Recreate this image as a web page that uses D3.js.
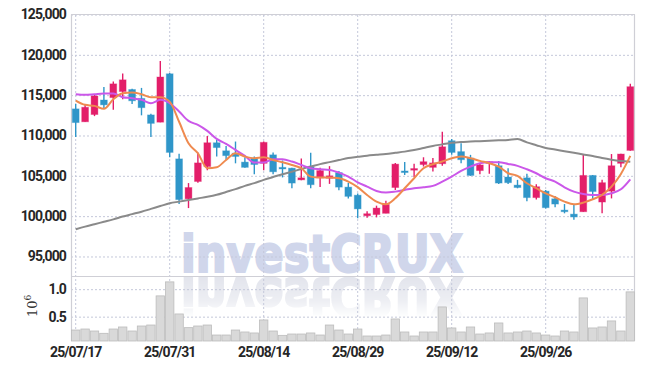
<!DOCTYPE html>
<html>
<head>
<meta charset="utf-8">
<script src="https://cdn.jsdelivr.net/npm/d3@7/dist/d3.min.js"></script>
<style>
  body {margin: 0; background: #fff;}
</style>
</head>
<body>
<div id="chart"></div>
<script>
// trading days shown on the chart
const dates = [
  '25/07/17', '25/07/18', '25/07/21', '25/07/22', '25/07/23', '25/07/24', '25/07/25', '25/07/28', '25/07/29', '25/07/30',
  '25/07/31', '25/08/01', '25/08/04', '25/08/05', '25/08/06', '25/08/07', '25/08/08', '25/08/11', '25/08/12', '25/08/13',
  '25/08/14', '25/08/18', '25/08/19', '25/08/20', '25/08/21', '25/08/22', '25/08/25', '25/08/26', '25/08/27', '25/08/28',
  '25/08/29', '25/09/01', '25/09/02', '25/09/03', '25/09/04', '25/09/05', '25/09/08', '25/09/09', '25/09/10', '25/09/11',
  '25/09/12', '25/09/15', '25/09/16', '25/09/17', '25/09/18', '25/09/19', '25/09/22', '25/09/23', '25/09/24', '25/09/25',
  '25/09/26', '25/09/29', '25/09/30', '25/10/01', '25/10/02', '25/10/10', '25/10/13', '25/10/14', '25/10/15', '25/10/16'
];

const open = [
  113300, 111700, 112600, 114400, 114700, 115450, 115700, 114600, 112550, 111650,
  117650, 107100, 102150, 104300, 106150, 109100, 108100, 107800, 106700, 107200,
  106550, 107600, 106050, 105950, 104500, 106100, 104750, 104700, 105400, 103600,
  102600, 100050, 100200, 100350, 103550, 105600, 105700, 106400, 106050, 106500,
  109350, 108000, 107200, 105650, 106550, 106250, 104850, 103850, 104750, 102300,
  103100, 102150, 100750, 100250, 100550, 105050, 101750, 103100, 106550, 108150
];
const high = [
  113900, 113900, 115100, 116000, 116700, 117700, 115800, 115900, 112700, 119250,
  117750, 107750, 104100, 107900, 109950, 109450, 108700, 109250, 107300, 107400,
  109250, 107900, 106900, 106000, 107150, 107850, 106000, 106200, 105600, 104100,
  102800, 100600, 101300, 101900, 106600, 106700, 106500, 107300, 107200, 110450,
  109550, 109050, 107600, 106550, 106800, 106850, 105950, 104500, 105250, 103950,
  103250, 102500, 101500, 101400, 107700, 105100, 104500, 107700, 107750, 116400
];
const low = [
  109800, 111700, 112400, 113400, 113200, 114500, 113900, 112500, 109800, 111650,
  107300, 101500, 101000, 104150, 105700, 107400, 107000, 106550, 106000, 105200,
  105700, 105200, 104800, 103450, 104450, 103450, 103600, 104000, 103200, 102200,
  99750, 99800, 99850, 100350, 103250, 105100, 104850, 106150, 105550, 106250,
  107600, 106550, 105000, 105200, 105250, 104000, 104000, 103450, 101850, 102050,
  100950, 101100, 100350, 99550, 100550, 102000, 100350, 102200, 106050, 108100
];
const close = [
  111600, 113500, 114900, 113800, 116400, 116900, 114300, 113450, 111500, 117250,
  107900, 102050, 103550, 106600, 109100, 108500, 107500, 107400, 106050, 106400,
  109150, 105500, 105850, 104100, 104750, 103900, 105650, 105000, 103600, 102450,
  100900, 100300, 101000, 101450, 106450, 105400, 105900, 106750, 106600, 108600,
  107900, 107000, 105050, 106350, 106750, 104100, 104150, 103550, 102300, 103650,
  101050, 101500, 100550, 99900, 105050, 103050, 104150, 106250, 107700, 116050
];

// volume, in millions of shares
const volume = [
  0.257, 0.275, 0.239, 0.197, 0.275, 0.312, 0.239, 0.330, 0.348, 0.878,
  1.133, 0.549, 0.300, 0.330, 0.348, 0.166, 0.166, 0.257, 0.221, 0.203,
  0.440, 0.239, 0.160, 0.184, 0.184, 0.203, 0.166, 0.348, 0.257, 0.184,
  0.275, 0.148, 0.148, 0.166, 0.458, 0.221, 0.148, 0.221, 0.221, 0.677,
  0.294, 0.221, 0.312, 0.184, 0.203, 0.385, 0.203, 0.221, 0.239, 0.203,
  0.166, 0.148, 0.239, 0.221, 0.841, 0.294, 0.312, 0.422, 0.239, 0.951
];

// moving averages
const ma5 = [
  114330, 113800, 113670, 113300, 114500, 115240, 115330, 115120, 114750, 114750,
  114200, 111700, 109040, 107800, 105940, 106060, 106970, 107800, 107390, 107180,
  107300, 106970, 106680, 106350, 105940, 104900, 104780, 104780, 104700, 104285,
  103600, 102630, 101800, 101470, 102220, 103460, 104700, 105940, 106430, 106770,
  107180, 107385, 107180, 106850, 106560, 106145, 105320, 104990, 104080, 103460,
  102835, 102340, 101800, 101470, 101680, 102090, 102630, 103660, 105235, 107470
];
const ma20 = [
  115120, 115040, 115120, 115200, 115200, 114750, 114620, 114420, 114000, 114420,
  114000, 112970, 111810, 111310, 110570, 109580, 108960, 108210, 107470, 106640,
  106640, 107055, 107055, 106770, 106350, 105940, 105810, 105730, 105400, 104905,
  104200, 103660, 103125, 102920, 103040, 103250, 103460, 103580, 103750, 104285,
  104900, 105610, 106145, 106560, 106680, 106680, 106475, 106230, 105810, 105320,
  104700, 104285, 103580, 103040, 102750, 102630, 102630, 102835, 103330, 104570
];
const ma60 = [
  98375, 98700, 99000, 99300, 99600, 99950, 100250, 100550, 100900, 101250,
  101600, 101800, 102000, 102200, 102400, 102650, 103000, 103350, 103750, 104100,
  104500, 104850, 105200, 105500, 105850, 106150, 106450, 106700, 106950, 107200,
  107350, 107500, 107600, 107700, 107850, 108000, 108200, 108450, 108700, 108900,
  109100, 109200, 109250, 109300, 109350, 109400, 109450, 109550, 109150, 108800,
  108450, 108250, 108050, 107850, 107650, 107450, 107200, 107000, 106850, 106750
];

const priceTicks = [95000, 100000, 105000, 110000, 115000, 120000, 125000];
const volumeTicks = [0.5, 1.0];
const dateTicks = ['25/07/17', '25/07/31', '25/08/14', '25/08/29', '25/09/12', '25/09/26'];

// layout
const s = {
  width: 645, height: 370,
  left: 71, right: 635,
  top: 14.5, split: 276, bottom: 341,
  up: '#e31e69', down: '#2f96c9',
  grid: '#c4c8da', frame: '#cfcfd6',
  font: 'Roboto, sans-serif'
};

const svg = d3.select('#chart').append('svg')
  .attr('width', s.width)
  .attr('height', s.height)
  .style('font-family', s.font);

// scales
const x = d3.scaleBand().domain(dates).range([s.left, s.right]);
const cx = d => x(d) + x.bandwidth() / 2;
const y = d3.scaleLinear().domain([92580, 125000]).range([s.split, s.top]);
const yv = d3.scaleLinear().domain([0.057, 1.24]).range([s.bottom, s.split]);

// watermark with reflection
const defs = svg.append('defs');
const grad = defs.append('linearGradient').attr('id', 'fade')
  .attr('gradientUnits', 'userSpaceOnUse')
  .attr('x1', 0).attr('x2', 0).attr('y1', 276).attr('y2', 318);
grad.append('stop').attr('offset', 0).attr('stop-color', '#fff').attr('stop-opacity', 1);
grad.append('stop').attr('offset', 0.6).attr('stop-color', '#fff').attr('stop-opacity', 0.6);
grad.append('stop').attr('offset', 1).attr('stop-color', '#fff').attr('stop-opacity', 0);
defs.append('mask').attr('id', 'fadeMask')
  .append('rect').attr('x', 0).attr('y', 276).attr('width', s.width).attr('height', 44)
  .attr('fill', 'url(#fade)');

const mark = svg.append('g').attr('class', 'watermark')
  .style('font-family', '"DejaVu Sans", sans-serif')
  .style('font-weight', 'bold')
  .style('font-size', '52px');
mark.append('text')
  .attr('x', 181).attr('y', 271.7)
  .attr('textLength', 282).attr('lengthAdjust', 'spacingAndGlyphs')
  .attr('fill', '#d0d6eb')
  .attr('stroke', '#d0d6eb')
  .attr('stroke-width', 2.2)
  .text('investCRUX');
mark.append('g').attr('mask', 'url(#fadeMask)')
  .append('text')
  .attr('transform', 'translate(0,550) scale(1,-1)')
  .attr('x', 181).attr('y', 271.7)
  .attr('textLength', 282).attr('lengthAdjust', 'spacingAndGlyphs')
  .attr('fill', '#e2e4ec')
  .attr('stroke', '#e2e4ec')
  .attr('stroke-width', 2.2)
  .text('investCRUX');

// grid + axes
const styleGrid = g => {
  g.select('.domain').remove();
  g.selectAll('.tick line')
    .attr('stroke', s.grid)
    .attr('stroke-dasharray', '2,2');
  g.selectAll('.tick text')
    .attr('fill', '#262626')
    .style('font-size', '14px')
    .style('font-weight', 700)
    .style('letter-spacing', '-0.9px')
    .style('font-family', s.font);
};

svg.append('g').attr('class', 'xaxis')
  .attr('transform', `translate(0,${s.bottom})`)
  .call(d3.axisBottom(x).tickValues(dateTicks).tickSize(-(s.bottom - s.top)).tickPadding(6))
  .call(styleGrid);

svg.append('g').attr('class', 'yaxis')
  .attr('transform', `translate(${s.left},0)`)
  .call(d3.axisLeft(y).tickValues(priceTicks).tickFormat(d3.format(','))
    .tickSize(-(s.right - s.left)).tickPadding(5))
  .call(styleGrid);

svg.append('g').attr('class', 'vaxis')
  .attr('transform', `translate(${s.left},0)`)
  .call(d3.axisLeft(yv).tickValues(volumeTicks).tickFormat(d3.format('.1f'))
    .tickSize(-(s.right - s.left)).tickPadding(5))
  .call(styleGrid);

// frame
const frame = svg.append('g').attr('class', 'frame')
  .attr('stroke', s.frame).attr('stroke-width', 1.2).attr('fill', 'none');
frame.append('line').attr('x1', s.left + 0.5).attr('x2', s.left + 0.5).attr('y1', s.top).attr('y2', s.bottom);
frame.append('line').attr('x1', s.right - 0.5).attr('x2', s.right - 0.5).attr('y1', s.top).attr('y2', s.bottom);
frame.append('line').attr('x1', s.left).attr('x2', s.right).attr('y1', s.top).attr('y2', s.top);
frame.append('line').attr('x1', s.left).attr('x2', s.right).attr('y1', s.split + 0.5).attr('y2', s.split + 0.5);

// volume unit label
svg.append('text')
  .attr('transform', 'translate(37,317) rotate(-90)')
  .style('font-family', '"DejaVu Serif", serif')
  .style('font-size', '13px')
  .attr('fill', '#333')
  .call(t => {
    t.append('tspan').text('10');
    t.append('tspan').attr('dy', -6).style('font-size', '9px').text('6');
  });

// volume bars
svg.append('g').attr('class', 'volume')
  .selectAll('rect')
  .data(dates)
  .join('rect')
  .attr('x', d => x(d) + 0.5)
  .attr('width', x.bandwidth() - 1)
  .attr('y', (d, i) => yv(volume[i]))
  .attr('height', (d, i) => s.bottom - yv(volume[i]))
  .attr('fill', '#d9d9d9')
  .attr('stroke', '#bcbcbc')
  .attr('stroke-width', 0.8);

// candles
const colour = i => close[i] >= open[i] ? s.up : s.down;
const candle = svg.append('g').attr('class', 'candles')
  .selectAll('g')
  .data(dates)
  .join('g');
candle.append('line')
  .attr('x1', d => cx(d)).attr('x2', d => cx(d))
  .attr('y1', (d, i) => y(high[i]))
  .attr('y2', (d, i) => y(low[i]))
  .attr('stroke', (d, i) => colour(i))
  .attr('stroke-width', 1.4);
candle.append('rect')
  .attr('x', d => cx(d) - 3.4)
  .attr('width', 6.8)
  .attr('y', (d, i) => y(Math.max(open[i], close[i])))
  .attr('height', (d, i) => Math.max(1.5, Math.abs(y(open[i]) - y(close[i]))))
  .attr('fill', (d, i) => colour(i))
  .attr('stroke', (d, i) => colour(i))
  .attr('stroke-opacity', 0.35)
  .attr('stroke-width', 1);

// moving averages
const line = series => d3.line()
  .x(d => cx(d))
  .y((d, i) => y(series[i]))
  .curve(d3.curveMonotoneX)(dates);
const lines = svg.append('g').attr('class', 'ma').attr('fill', 'none');
[[ma60, '#8a8a8a'], [ma20, '#cb57e9'], [ma5, '#ef8a4f']].forEach(([series, c]) => {
  lines.append('path')
    .attr('d', line(series))
    .attr('stroke', c)
    .attr('stroke-width', 2)
    .attr('stroke-linejoin', 'round');
});
</script>
</body>
</html>
